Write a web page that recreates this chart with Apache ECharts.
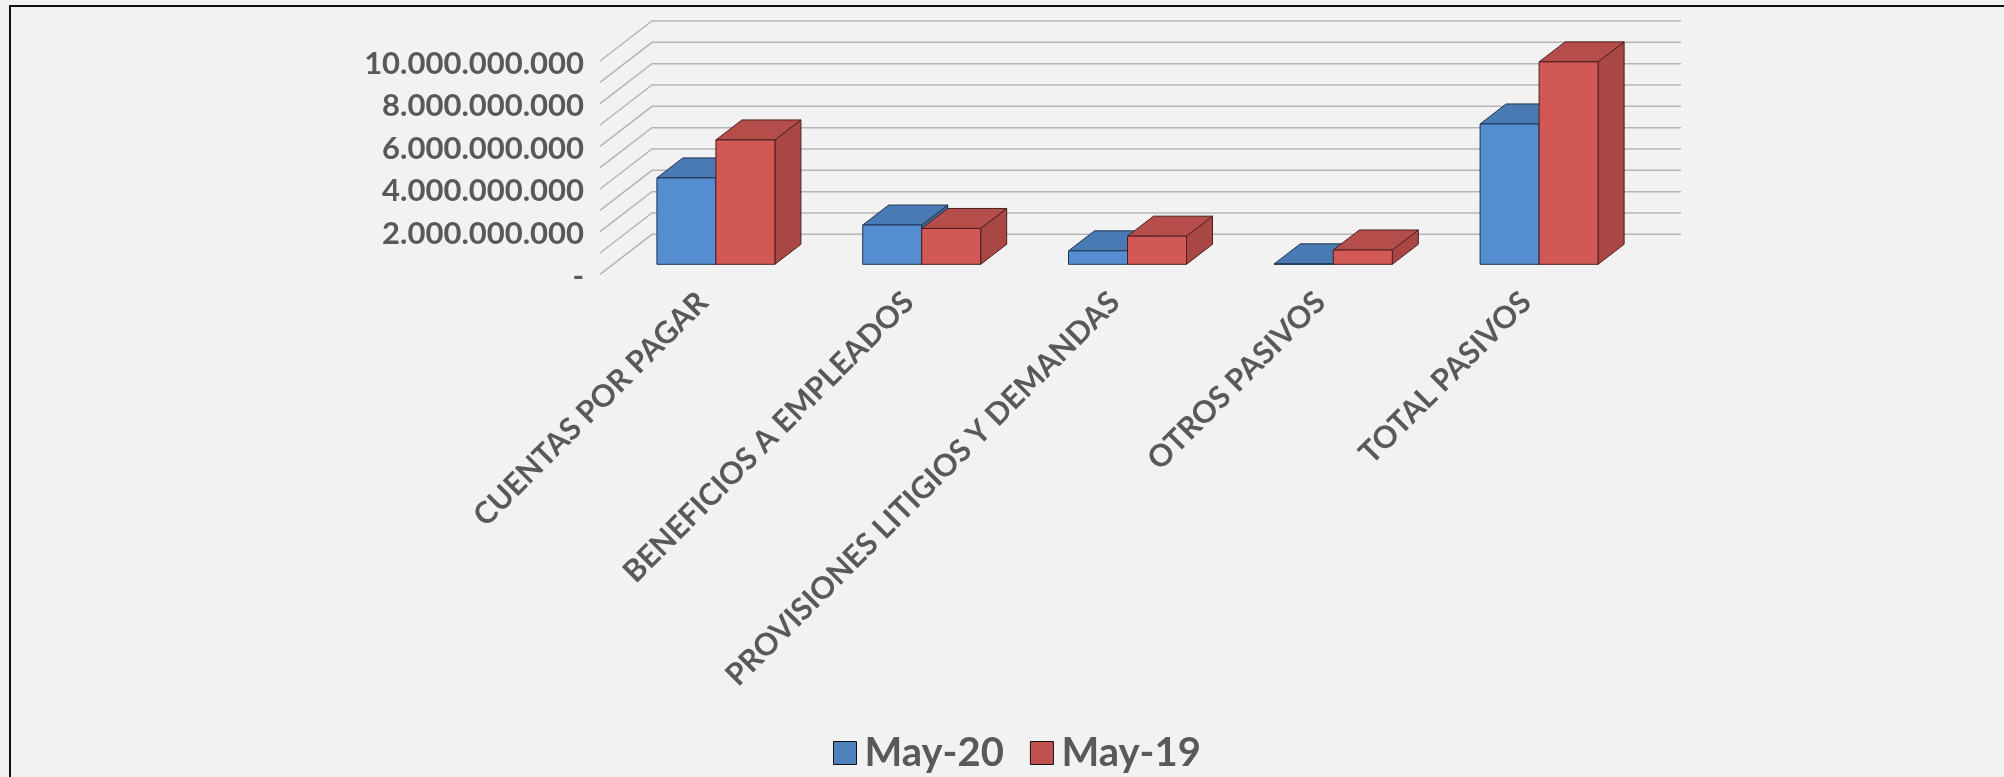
<!DOCTYPE html>
<html>
<head>
<meta charset="utf-8">
<title>Pasivos</title>
<script src="https://cdn.jsdelivr.net/npm/echarts@6/dist/echarts.min.js"></script>
<style>
html, body { margin: 0; padding: 0; background: #f2f2f2; }
#lineTop { position: absolute; left: 9px; right: 0; top: 5px; height: 2px; background: #111; }
#lineLeft { position: absolute; left: 9px; top: 5px; bottom: 0; width: 2px; background: #111; }
#main { position: absolute; left: 0; top: 0; width: 2004px; height: 777px; }
</style>
</head>
<body>
<div id="lineTop"></div>
<div id="lineLeft"></div>
<div id="main"></div>
<script>
var categories = ["CUENTAS POR PAGAR", "BENEFICIOS A EMPLEADOS", "PROVISIONES LITIGIOS Y DEMANDAS", "OTROS PASIVOS", "TOTAL PASIVOS"];
var may20 = [4050000000, 1840000000, 630000000, 20000000, 6580000000];
var may19 = [5830000000, 1680000000, 1320000000, 670000000, 9490000000];
var gridTicks = [0, 1000000000, 2000000000, 3000000000, 4000000000, 5000000000, 6000000000, 7000000000, 8000000000, 9000000000, 10000000000];

var FONT = "Lato";
var TEXT = "#595959";
// fake 3d: depth of the walls and of the boxes
var WALL_DX = 52, WALL_DY = -40;
var BOX_DX = 26, BOX_DY = -20;
var BOX_X = 13, BOX_Y = -10;
var BAR_W = 59;

function formatMoney(v) {
  if (v === 0) return "-";
  return String(v).replace(/\B(?=(\d{3})+$)/g, ".");
}

function renderWall(params, api) {
  var v = api.value(0);
  var left = api.coord([0, v]);
  var band = api.size([1, 0])[0];
  var y = left[1];
  var x0 = left[0] - band / 2;
  var x1 = x0 + band * categories.length;
  return {
    type: "polyline",
    shape: { points: [[x0, y], [x0 + WALL_DX, y + WALL_DY], [x1 + WALL_DX, y + WALL_DY]] },
    style: { fill: null, stroke: "#b5b5b5", lineWidth: 1.5 }
  };
}

function makeBox(pos, colors) {
  return function (params, api) {
    var c = api.coord([api.value(0), api.value(1)]);
    var base = api.coord([api.value(0), 0]);
    var x0 = c[0] + BOX_X + pos * BAR_W;
    var x1 = x0 + BAR_W;
    var top = c[1] + BOX_Y;
    var bottom = base[1] + BOX_Y;
    var border = { stroke: colors.line, lineWidth: 1 };
    return {
      type: "group",
      children: [
        { type: "polygon", shape: { points: [[x1, top], [x1 + BOX_DX, top + BOX_DY], [x1 + BOX_DX, bottom + BOX_DY], [x1, bottom]] }, style: Object.assign({ fill: colors.side }, border) },
        { type: "polygon", shape: { points: [[x0, top], [x0 + BOX_DX, top + BOX_DY], [x1 + BOX_DX, top + BOX_DY], [x1, top]] }, style: Object.assign({ fill: colors.top }, border) },
        { type: "rect", shape: { x: x0, y: top, width: BAR_W, height: bottom - top }, style: Object.assign({ fill: colors.front }, border) }
      ]
    };
  };
}

var blue = { front: "#558ed0", top: "#4a7ab3", side: "#41699b", line: "#1f3550" };
var red = { front: "#d25856", top: "#b54e4a", side: "#a84744", line: "#4a1f1e" };

var myChart = echarts.init(document.getElementById("main"), null, { renderer: "canvas" });
var option = {
  animation: false,
  backgroundColor: "transparent",
  grid: { left: 600, top: 61, width: 1029, height: 213.3 },
  legend: {
    left: 833,
    top: 733,
    padding: 0,
    itemWidth: 23,
    itemHeight: 23,
    itemGap: 26,
    textStyle: { fontFamily: FONT, fontWeight: "bold", fontSize: 40, color: TEXT, padding: [0, 0, 0, 3] },
    data: [
      { name: "May-20", icon: "rect", itemStyle: { color: "#4f81bd", borderColor: "#111", borderWidth: 1 } },
      { name: "May-19", icon: "rect", itemStyle: { color: "#c0504d", borderColor: "#111", borderWidth: 1 } }
    ]
  },
  xAxis: {
    type: "category",
    data: categories,
    axisLine: { show: false },
    axisTick: { show: false },
    axisLabel: {
      interval: 0,
      rotate: 45,
      margin: 23,
      fontFamily: FONT,
      fontWeight: "bold",
      fontSize: 30.5,
      color: TEXT
    }
  },
  yAxis: {
    type: "value",
    min: 0,
    max: 10000000000,
    interval: 2000000000,
    axisLine: { show: false },
    axisTick: { show: false },
    splitLine: { show: false },
    axisLabel: {
      margin: 16,
      fontFamily: FONT,
      fontWeight: "bold",
      fontSize: 31,
      color: TEXT,
      verticalAlign: "top",
      lineHeight: 5,
      formatter: formatMoney
    }
  },
  series: [
    {
      type: "custom",
      name: "walls",
      silent: true,
      z: 1,
      renderItem: renderWall,
      encode: { y: 0 },
      data: gridTicks.map(function (v) { return [v]; })
    },
    {
      type: "custom",
      name: "May-20",
      z: 2,
      renderItem: makeBox(-1, blue),
      encode: { x: 0, y: 1 },
      data: may20.map(function (v, i) { return [i, v]; })
    },
    {
      type: "custom",
      name: "May-19",
      z: 2,
      renderItem: makeBox(0, red),
      encode: { x: 0, y: 1 },
      data: may19.map(function (v, i) { return [i, v]; })
    }
  ]
};
myChart.setOption(option);
</script>
</body>
</html>
